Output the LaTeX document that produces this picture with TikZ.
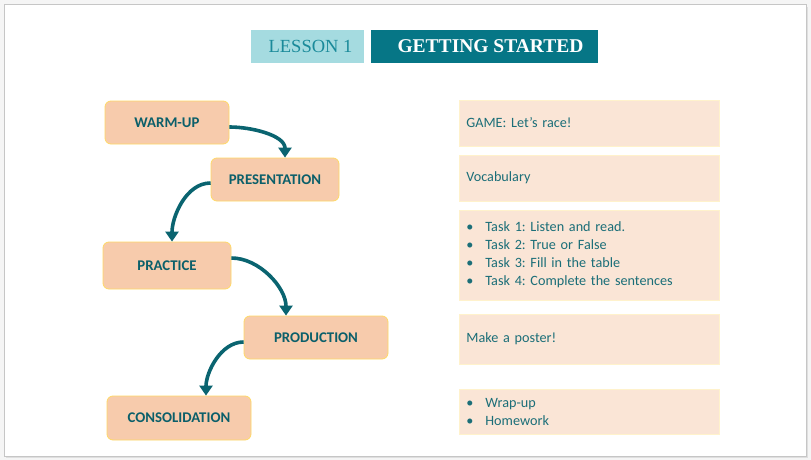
\documentclass[tikz,border=0pt]{standalone}
\usepackage{fontspec}
\setmainfont{Carlito}
\newfontfamily\titlefont{Liberation Serif}
\usepackage{xcolor}
\usetikzlibrary{arrows.meta, positioning, calc}

\definecolor{tealdark}{HTML}{067686}
\definecolor{teallight}{HTML}{A5DBE0}
\definecolor{tealtext}{HTML}{1A8A9A}
\definecolor{stagefill}{HTML}{F7CBAC}
\definecolor{stageline}{HTML}{FFD966}
\definecolor{stagetext}{HTML}{0B5F6A}
\definecolor{actfill}{HTML}{FAE5D6}
\definecolor{actline}{HTML}{FFF2CC}
\definecolor{acttext}{HTML}{1B6E78}
\definecolor{arrowcol}{HTML}{0A6470}

\newcommand{\bul}{\makebox[19pt][l]{\textbullet}}
\frenchspacing

\begin{document}
\begin{tikzpicture}[
  x=1pt, y=-1pt,
  stage/.style={draw=stageline, fill=stagefill, rounded corners=6pt, line width=0.8pt,
    text=stagetext, font=\fontsize{14.8}{16}\selectfont\bfseries, align=center},
  activity/.style={draw=actline, fill=actfill, line width=0.8pt, anchor=west,
    minimum width=260pt, text width=246pt, inner sep=7pt, align=left,
    text=acttext, font=\fontsize{14.2}{18}\selectfont},
  flow/.style={draw=arrowcol, line width=3.6pt, -{Triangle[width=13pt,length=10pt]}}
]
  % page and frame
  \fill[gray!8] (0,0) rectangle (811,460);
  \fill[gray!25] (6,7) rectangle (808,458);
  \draw[gray!45, fill=white, line width=1pt] (4,5) rectangle (806,456);
  \useasboundingbox (0,0) rectangle (811,460);

  % title
  \node[fill=teallight, minimum width=113pt, minimum height=33pt, text=tealtext,
    font=\titlefont\fontsize{18.5}{20}\selectfont] (lesson) at (307.5,46.5) {\hspace{6pt}LESSON 1};
  \node[fill=tealdark, minimum width=227pt, minimum height=33pt, text=white,
    font=\titlefont\fontsize{19.5}{20}\selectfont\bfseries] (title) at (484.5,46.5) {\hspace{12pt}GETTING STARTED};

  % stages
  \node[stage, minimum width=124pt, minimum height=43pt] (warm) at (167,122.5) {WARM-UP};
  \node[stage, minimum width=128pt, minimum height=43pt] (pres) at (275,179.5) {PRESENTATION};
  \node[stage, minimum width=128pt, minimum height=47pt] (prac) at (167,265.5) {PRACTICE};
  \node[stage, minimum width=144pt, minimum height=43pt] (prod) at (316,337.5) {PRODUCTION};
  \node[stage, minimum width=144pt, minimum height=44pt] (cons) at (179,418) {CONSOLIDATION};

  % arrows
  \draw[flow] ([yshift=-4.5pt]warm.east) to[out=0, in=90, looseness=0.9] ([xshift=10pt]pres.north);
  \draw[flow] ([yshift=-3.5pt]pres.west) to[out=180, in=90, looseness=0.9] ([xshift=5pt]prac.north);
  \draw[flow] ([yshift=7.5pt]prac.east) to[out=0, in=90, looseness=0.9] ([xshift=-30pt]prod.north);
  \draw[flow] ([yshift=-4.5pt]prod.west) to[out=180, in=90, looseness=0.9] ([xshift=27pt]cons.north);

  % activities
  \node[activity, minimum height=46pt] (game) at (459,123) {GAME: Let’s race!};
  \node[activity, minimum height=46pt] (vocab) at (459,178) {Vocabulary};
  \node[activity, minimum height=90pt] (tasks) at (459,255) {\bul Task 1: Listen and read.\\ \bul Task 2: True or False\\ \bul Task 3: Fill in the table\\ \bul Task 4: Complete the sentences};
  \node[activity, minimum height=50pt] (poster) at (459,339) {Make a poster!};
  \node[activity, minimum height=45pt] (wrap) at (459,411.5) {\bul Wrap-up\\ \bul Homework};
\end{tikzpicture}
\end{document}
